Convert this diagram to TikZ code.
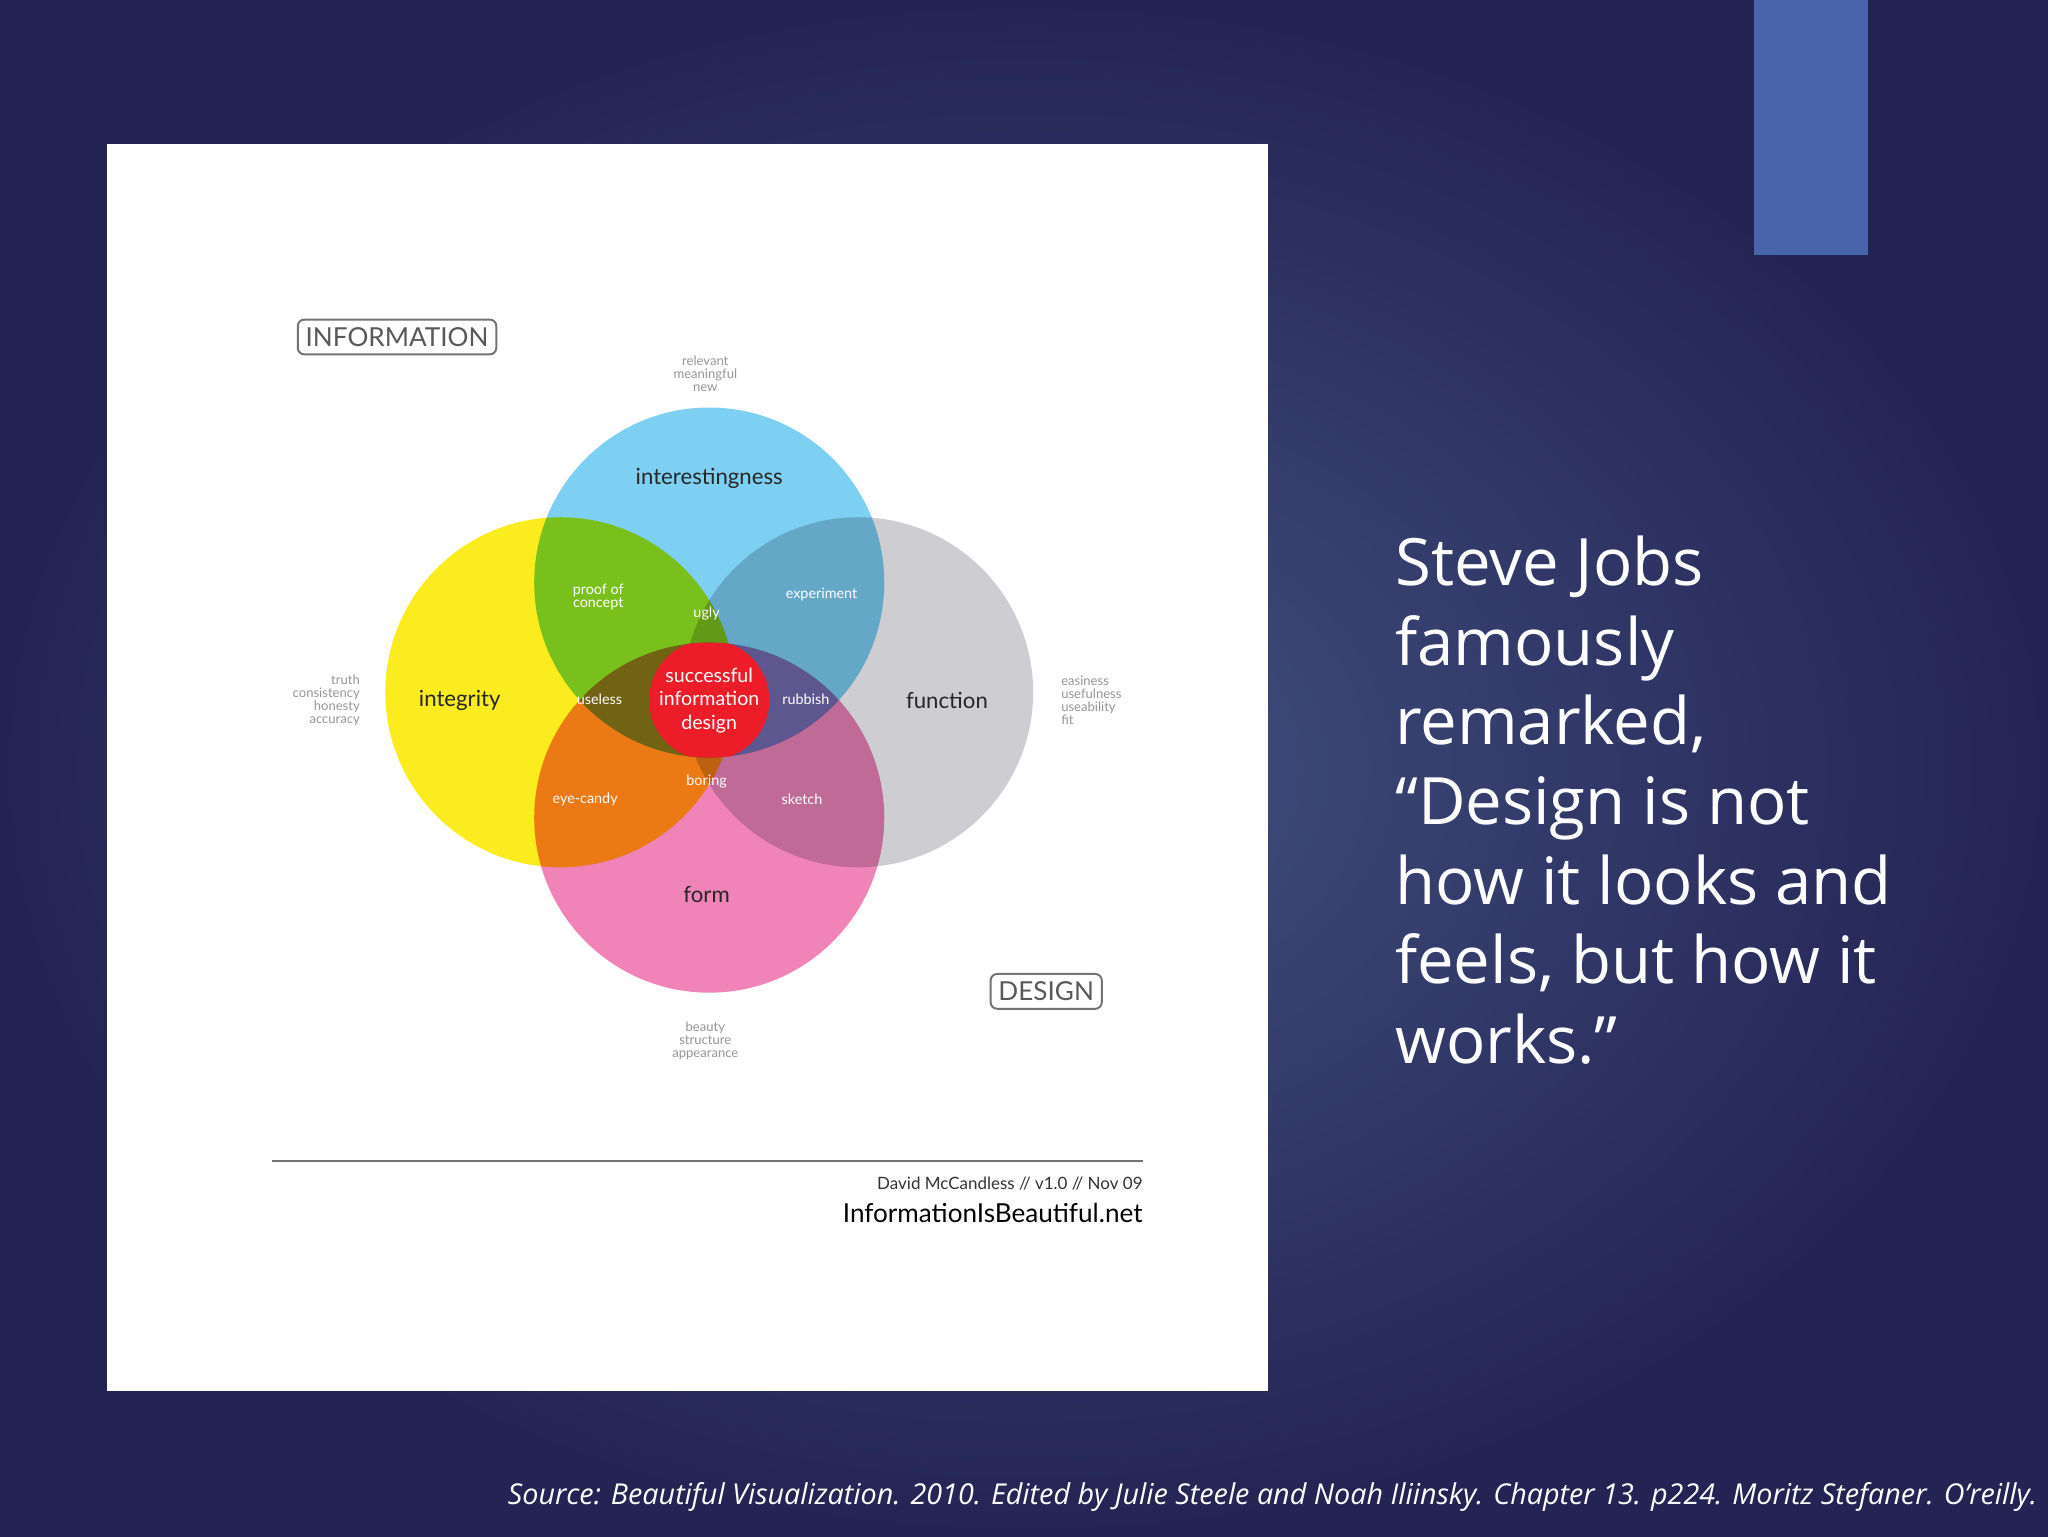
\documentclass[tikz,border=0pt]{standalone}
\usepackage{fontspec}
\setmainfont{Open Sans}
\newfontfamily\dfont{Lato}
\usetikzlibrary{shapes.geometric}
\definecolor{bgdark}{RGB}{36,36,84}
\definecolor{bglight}{RGB}{66,82,128}
\definecolor{accent}{RGB}{72,100,172}
\definecolor{cblue}{RGB}{125,208,242}
\definecolor{cyellow}{RGB}{250,236,30}
\definecolor{cgrey}{RGB}{205,205,210}
\definecolor{cpink}{RGB}{240,132,184}
\definecolor{cred}{RGB}{236,28,40}
\definecolor{smallgrey}{RGB}{150,150,150}
\tikzset{
  circ/.style={fill=#1, blend mode=multiply},
  biglabel/.style={font=\dfont\fontsize{17}{19}\selectfont, text=black!85},
  inlabel/.style={font=\dfont\fontsize{11}{12}\selectfont, text=white, align=center},
  attr/.style={font=\dfont\fontsize{10}{12}\selectfont, text=smallgrey, align=center},
  boxlabel/.style={draw=black!55, line width=1.5pt, rounded corners=5pt, font=\dfont\fontsize{20}{22}\selectfont, text=black!65, inner sep=6pt}
}
\begin{document}
\begin{tikzpicture}[x=1pt,y=-1pt]
\useasboundingbox (0,0) rectangle (1568,1176);
\shade[inner color=bglight, outer color=bgdark] (0,0) rectangle (1568,1176);
\fill[accent] (1343,0) rectangle (1430,195);
\fill[white] (82,110) rectangle (971,1065);
\begin{scope}
\fill[circ=cblue] (543,446) circle (134);
\fill[circ=cyellow] (429,530) circle (134);
\fill[circ=cgrey] (657,530) circle (134);
\fill[circ=cpink] (543,626) circle (134);
\begin{scope}
\clip (543,446) circle (134);
\clip (543,626) circle (134);
\fill[cred] (543,536) ellipse (46 and 46);
\end{scope}
\end{scope}
\node[biglabel] (interest) at (543,366) {interestingness};
\node[biglabel] (integ) at (352,536) {integrity};
\node[biglabel] (func) at (725,536) {function};
\node[biglabel] (form) at (541,685) {form};
\node[inlabel] (proof) at (458,457) {proof of\\[-2pt]concept};
\node[inlabel] (ugly) at (541,470) {ugly};
\node[inlabel] (exper) at (629,455) {experiment};
\node[inlabel] (useless) at (459,535) {useless};
\node[inlabel] (rubbish) at (617,535) {rubbish};
\node[inlabel, font=\dfont\fontsize{15}{18}\selectfont] (succ) at (543,536) {successful\\information\\design};
\node[inlabel] (eye) at (448,612) {eye-candy};
\node[inlabel] (boring) at (541,598) {boring};
\node[inlabel] (sketch) at (614,612) {sketch};
\node[attr] (relev) at (540,286) {relevant\\[-2pt]meaningful\\[-2pt]new};
\node[attr, align=right, anchor=east] (truth) at (279,536) {truth\\[-2pt]consistency\\[-2pt]honesty\\[-2pt]accuracy};
\node[attr, align=left, anchor=west] (eas) at (809,536) {easiness\\[-2pt]usefulness\\[-2pt]useability\\[-2pt]fit};
\node[attr] (beauty) at (540,797) {beauty\\[-2pt]structure\\[-2pt]appearance};
\node[boxlabel] (info) at (304,258) {INFORMATION};
\node[boxlabel] (design) at (801,759) {DESIGN};
\coordinate (l1) at (208,889);
\coordinate (l2) at (875,889);
\draw[black!55, line width=1.5pt] (l1) -- (l2);
\node[anchor=east, font=\dfont\fontsize{13}{14}\selectfont, text=black!80, inner sep=0] (david) at (875,906) {David McCandless // v1.0 // Nov 09};
\node[anchor=east, font=\dfont\fontsize{20}{22}\selectfont, text=black, inner sep=0] (iib) at (875,929) {InformationIsBeautiful.net};
\node[anchor=north west, align=left, text=white, font=\fontsize{50}{61}\selectfont, inner sep=0] (quote) at (1068,410) {Steve Jobs\\famously\\remarked,\\“Design is not\\how it looks and\\feels, but how it\\works.”};
\node[anchor=east, text=white, font=\itshape\fontsize{22}{24}\selectfont, inner sep=0] (src) at (1560,1146) {Source: Beautiful Visualization. 2010. Edited by Julie Steele and Noah Iliinsky. Chapter 13. p224. Moritz Stefaner. O’reilly.};
\end{tikzpicture}
\end{document}
